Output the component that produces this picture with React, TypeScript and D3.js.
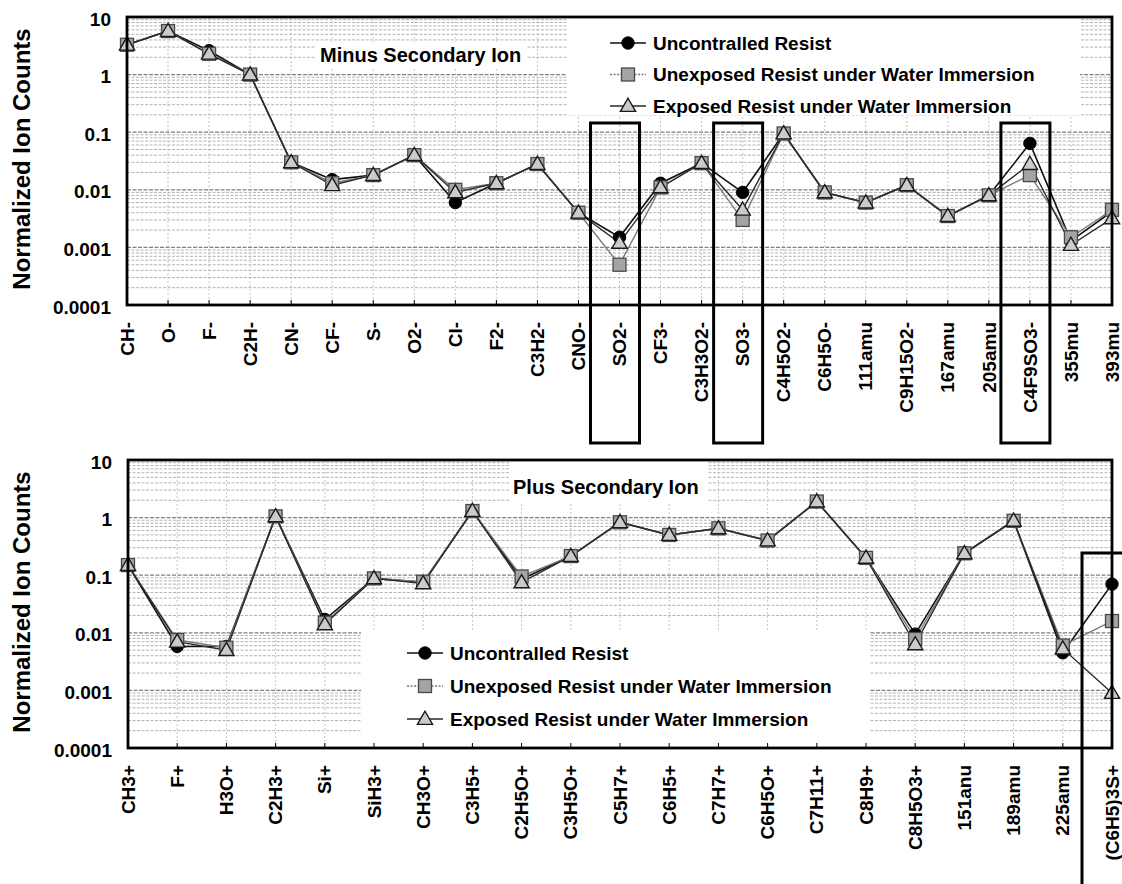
import React from "react";
import * as d3 from "d3";

// ---------- data ----------
const topCategories = ["CH-", "O-", "F-", "C2H-", "CN-", "CF-", "S-", "O2-", "Cl-", "F2-", "C3H2-", "CNO-", "SO2-", "CF3-", "C3H3O2-", "SO3-", "C4H5O2-", "C6H5O-", "111amu", "C9H15O2-", "167amu", "205amu", "C4F9SO3-", "355mu", "393mu"];
const topUncontrolled = [3.3, 5.7, 2.6, 1.0, 0.03, 0.015, 0.018, 0.04, 0.006, 0.013, 0.028, 0.004, 0.0015, 0.013, 0.029, 0.009, 0.095, 0.009, 0.006, 0.012, 0.0035, 0.008, 0.064, 0.0013, 0.0042];
const topUnexposed = [3.3, 5.7, 2.3, 1.0, 0.03, 0.013, 0.018, 0.04, 0.01, 0.013, 0.028, 0.004, 0.0005, 0.011, 0.029, 0.003, 0.095, 0.009, 0.006, 0.012, 0.0035, 0.008, 0.018, 0.0015, 0.0045];
const topExposed = [3.3, 5.7, 2.3, 1.0, 0.03, 0.012, 0.018, 0.04, 0.009, 0.013, 0.028, 0.004, 0.0012, 0.011, 0.029, 0.0045, 0.095, 0.009, 0.006, 0.012, 0.0035, 0.008, 0.028, 0.0011, 0.0032];
const topHighlighted = ["SO2-", "SO3-", "C4F9SO3-"];

const bottomCategories = ["CH3+", "F+", "H3O+", "C2H3+", "Si+", "SiH3+", "CH3O+", "C3H5+", "C2H5O+", "C3H5O+", "C5H7+", "C6H5+", "C7H7+", "C6H5O+", "C7H11+", "C8H9+", "C8H5O3+", "151anu", "189amu", "225amu", "(C6H5)3S+"];
const bottomUncontrolled = [0.15, 0.0058, 0.0058, 1.05, 0.017, 0.088, 0.075, 1.3, 0.085, 0.215, 0.83, 0.5, 0.65, 0.4, 1.9, 0.2, 0.0095, 0.24, 0.88, 0.0045, 0.07];
const bottomUnexposed = [0.15, 0.0075, 0.0055, 1.05, 0.015, 0.088, 0.077, 1.3, 0.095, 0.215, 0.83, 0.5, 0.65, 0.4, 1.9, 0.2, 0.0078, 0.24, 0.88, 0.006, 0.016];
const bottomExposed = [0.15, 0.007, 0.005, 1.05, 0.014, 0.088, 0.072, 1.3, 0.075, 0.215, 0.83, 0.5, 0.65, 0.4, 1.9, 0.2, 0.0063, 0.24, 0.88, 0.0053, 0.0009];
const bottomHighlighted = ["(C6H5)3S+"];

const seriesNames = ["Uncontralled Resist", "Unexposed Resist under Water Immersion", "Exposed Resist under Water Immersion"];
const yTickValues = [10, 1, 0.1, 0.01, 0.001, 0.0001];
const yTickLabels = ["10", "1", "0.1", "0.01", "0.001", "0.0001"];
const yTitle = "Normalized Ion Counts";

// ---------- styles ----------
const FONT = "'Liberation Sans', Arial, Helvetica, sans-serif";
const seriesStyles = [
  { line: "#111", lineWidth: 1.6, marker: "circle", fill: "#000", stroke: "#000" },
  { line: "#7a7a7a", lineWidth: 1.4, marker: "square", fill: "#a4a4a4", stroke: "#4a4a4a" },
  { line: "#2a2a2a", lineWidth: 1.4, marker: "triangle", fill: "#cbcbcb", stroke: "#1a1a1a" },
];
const legendLineDash = ["", "2,1.5", ""];

function Marker({ kind, x, y, fill, stroke }) {
  if (kind === "circle") return <circle cx={x} cy={y} r={6.2} fill={fill} stroke={stroke} />;
  if (kind === "square") return <rect x={x - 6.5} y={y - 6.5} width={13} height={13} fill={fill} stroke={stroke} strokeWidth={1.3} />;
  const p = d3.symbol(d3.symbolTriangle, 100)();
  return <path d={p} transform={`translate(${x},${y + 1})`} fill={fill} stroke={stroke} strokeWidth={1.4} />;
}

function Panel(props) {
  const { cats, series, left, right, top, bottom, title, titleX, titleY, titleBox,
    legendBox, legendX, legendY0, legendStep, labelTop, highlights, hlTop, hlBottom, hlOffset } = props;
  const x = d3.scalePoint().domain(cats).range([left, right]);
  const y = d3.scaleLog().domain([1e-4, 10]).range([bottom, top]);
  const minor = [];
  for (let e = -4; e < 1; e++) for (let k = 2; k <= 9; k++) minor.push(k * Math.pow(10, e));
  const major = [1e-3, 1e-2, 1e-1, 1];
  const line = d3.line().x((d) => x(d.c)).y((d) => y(d.v));

  return (
    <g>
      {minor.map((v, i) => (
        <line key={"mi" + i} x1={left} x2={right} y1={y(v)} y2={y(v)} stroke="#aaaaaa" strokeWidth={0.9} strokeDasharray="3,1.5" />
      ))}
      {major.map((v, i) => (
        <line key={"ma" + i} x1={left} x2={right} y1={y(v)} y2={y(v)} stroke="#808080" strokeWidth={1.3} strokeDasharray="4,1.5" />
      ))}
      {cats.map((c, i) => (
        <line key={"vg" + i} x1={x(c)} x2={x(c)} y1={top} y2={bottom} stroke="#b8b8b8" strokeWidth={0.8} strokeDasharray="2,2" />
      ))}
      <rect x={legendBox[0]} y={legendBox[1]} width={legendBox[2]} height={legendBox[3]} fill="#fff" />
      <rect x={titleBox[0]} y={titleBox[1]} width={titleBox[2]} height={titleBox[3]} fill="#fff" />
      {series.map((s, si) => {
        const pts = cats.map((c, i) => ({ c, v: s[i] }));
        const st = seriesStyles[si];
        return <path key={"s" + si} d={line(pts)} fill="none" stroke={st.line} strokeWidth={st.lineWidth} />;
      })}
      {series.map((s, si) => {
        const st = seriesStyles[si];
        return (
          <g key={"m" + si}>
            {cats.map((c, i) => (
              <Marker key={i} kind={st.marker} x={x(c)} y={y(s[i])} fill={st.fill} stroke={st.stroke} />
            ))}
          </g>
        );
      })}
      <rect x={left} y={top} width={right - left} height={bottom - top} fill="none" stroke="#000" strokeWidth={2.8} />
      {cats.map((c, i) => (
        <line key={"tk" + i} x1={x(c)} x2={x(c)} y1={bottom} y2={bottom - 5} stroke="#000" strokeWidth={1} />
      ))}
      {yTickValues.map((v, i) => (
        <text key={"yt" + i} x={left - 16} y={y(v) + 2} dy="0.35em" textAnchor="end" fontFamily={FONT} fontWeight="bold" fontSize={19} fill="#000">
          {yTickLabels[i]}
        </text>
      ))}
      <text transform={`translate(30,${(top + bottom) / 2 - 2}) rotate(-90)`} textAnchor="middle" fontFamily={FONT} fontWeight="bold" fontSize={24} fill="#000">
        {yTitle}
      </text>
      {cats.map((c, i) => (
        <text key={"xl" + i} transform={`translate(${x(c)},${labelTop}) rotate(-90)`} dy="0.35em" textAnchor="end" fontFamily={FONT} fontWeight="bold" fontSize={19} fill="#000">
          {c}
        </text>
      ))}
      <text x={titleX} y={titleY} fontFamily={FONT} fontWeight="bold" fontSize={20} fill="#000">{title}</text>
      {seriesNames.map((n, i) => {
        const st = seriesStyles[i];
        const ly = legendY0 + i * legendStep;
        return (
          <g key={"lg" + i}>
            <line x1={legendX - 18} x2={legendX + 18} y1={ly} y2={ly} stroke={st.line} strokeWidth={1.4} strokeDasharray={legendLineDash[i]} />
            <Marker kind={st.marker} x={legendX} y={ly} fill={st.fill} stroke={st.stroke} />
            <text x={legendX + 25} y={ly} dy="0.35em" fontFamily={FONT} fontWeight="bold" fontSize={19} fill="#000">{n}</text>
          </g>
        );
      })}
      {highlights.map((c, i) => (
        <rect key={"hl" + i} x={x(c) - hlOffset} y={hlTop} width={49} height={hlBottom - hlTop} fill="none" stroke="#000" strokeWidth={3} />
      ))}
    </g>
  );
}

export default function App() {
  return (
    <svg width={1122} height={884} style={{ position: "absolute", left: 0, top: 0, background: "#fff" }}>
      <rect x={0} y={0} width={1122} height={884} fill="#fff" />
      <Panel
        cats={topCategories}
        series={[topUncontrolled, topUnexposed, topExposed]}
        left={127} right={1112} top={17} bottom={305}
        title="Minus Secondary Ion" titleX={320} titleY={62} titleBox={[315, 42, 212, 25]}
        legendBox={[567, 18, 513, 97]} legendX={628} legendY0={43} legendStep={31.5}
        labelTop={322}
        highlights={topHighlighted} hlTop={123} hlBottom={443} hlOffset={29}
      />
      <Panel
        cats={bottomCategories}
        series={[bottomUncontrolled, bottomUnexposed, bottomExposed]}
        left={128} right={1112} top={460} bottom={748}
        title="Plus Secondary Ion" titleX={513} titleY={494} titleBox={[509, 461, 199, 42]}
        legendBox={[361, 632, 509, 114]} legendX={425} legendY0={653} legendStep={33}
        labelTop={765}
        highlights={bottomHighlighted} hlTop={553} hlBottom={900} hlOffset={30}
      />
    </svg>
  );
}
